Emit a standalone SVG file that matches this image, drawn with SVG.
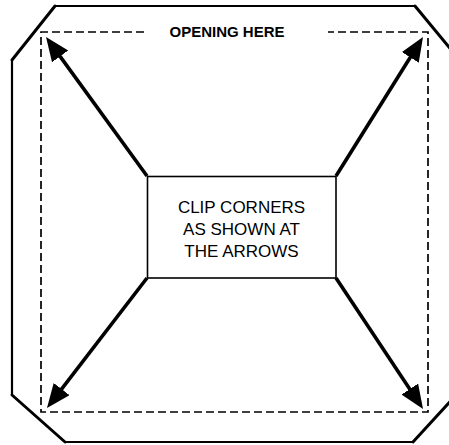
<svg xmlns="http://www.w3.org/2000/svg" width="449" height="445" viewBox="0 0 449 445">
<style>
.outline{fill:none;stroke:#000;stroke-width:2.2;stroke-linejoin:miter}
.diag{fill:none;stroke:#000;stroke-width:3;stroke-linecap:round}
.dash{fill:none;stroke:#000;stroke-width:1.7;stroke-dasharray:8 4}
.arrow{stroke:#000;stroke-width:3.6;fill:none;marker-end:url(#head)}
.box{fill:#fff;stroke:#000;stroke-width:1.6}
.lbl{font-family:"Liberation Sans",Arial,sans-serif;font-size:17px;text-anchor:middle;fill:#000}
.title{font-family:"Liberation Sans",Arial,sans-serif;font-size:15px;font-weight:bold;text-anchor:middle;fill:#000}
</style>
<defs>
<marker id="head" markerUnits="userSpaceOnUse" markerWidth="26" markerHeight="22" refX="14" refY="10" orient="auto" viewBox="0 0 26 22">
<path d="M0,0 L24,10 L0,20 z" fill="#000"/>
</marker>
</defs>
<rect width="449" height="445" fill="#fff"/>
<g id="outline">
<polyline class="outline" points="55,6 415,6"/>
<polyline class="outline" points="458,58 458,393"/>
<polyline class="outline" points="413,442 65,442"/>
<polyline class="outline" points="12,395 12,60"/>
<line class="diag" x1="415" y1="6" x2="458" y2="58"/>
<line class="diag" x1="458" y1="393" x2="413" y2="442"/>
<line class="diag" x1="65" y1="442" x2="12" y2="395"/>
<line class="diag" x1="12" y1="60" x2="55" y2="6"/>
</g>
<g id="opening">
<polyline class="dash" points="144,32 41,32 41,412 428,412 428,32 328,32"/>
<text class="title" x="227" y="37">OPENING HERE</text>
</g>
<g id="connectors">
<line class="arrow" x1="147" y1="176" x2="51.9" y2="45.1"/>
<line class="arrow" x1="336" y1="176" x2="417.7" y2="45.5"/>
<line class="arrow" x1="147" y1="278" x2="53.1" y2="400.1"/>
<line class="arrow" x1="336" y1="278" x2="417.5" y2="400.7"/>
</g>
<g id="center">
<rect class="box" x="147.5" y="176.5" width="188.5" height="101.5"/>
<text class="lbl" x="241.5" y="213">CLIP CORNERS</text>
<text class="lbl" x="241.5" y="235">AS SHOWN AT</text>
<text class="lbl" x="241.5" y="257">THE ARROWS</text>
</g>
</svg>
